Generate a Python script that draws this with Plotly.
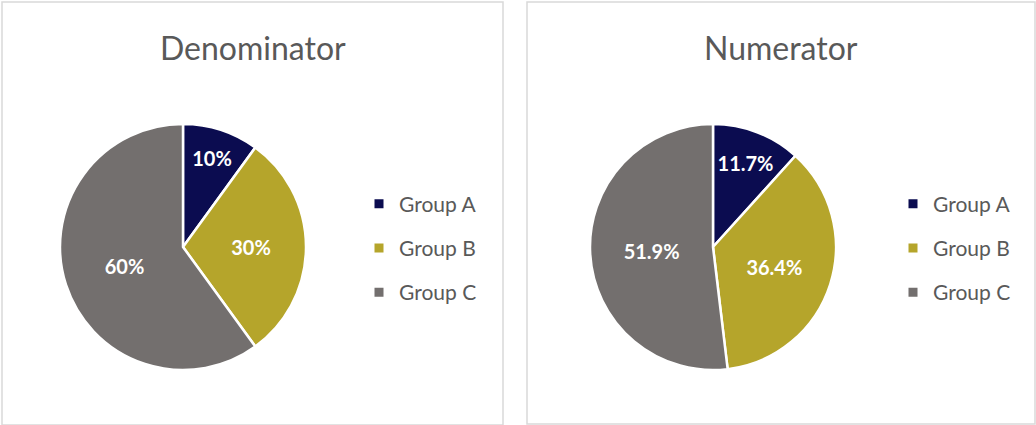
import plotly.graph_objects as go

categories = ["Group A", "Group B", "Group C"]
denominator_values = [10, 30, 60]
numerator_values = [11.7, 36.4, 51.9]
colors = ["#0B0C50", "#B5A52B", "#736F6E"]
titles = ["Denominator", "Numerator"]

W, H = 1036, 425
FONT = "Lato"

fig = go.Figure()

pie_domains = [
    dict(x=[60 / W, 306 / W], y=[(H - 370) / H, (H - 124) / H]),
    dict(x=[590 / W, 836 / W], y=[(H - 370) / H, (H - 124) / H]),
]
values_list = [denominator_values, numerator_values]
texts = [[f"{v:g}%" for v in denominator_values], [f"{v:g}%" for v in numerator_values]]
legends = ["legend", "legend2"]

for i in range(2):
    fig.add_trace(go.Pie(
        labels=categories,
        values=values_list[i],
        text=texts[i],
        textinfo="text",
        textposition="inside",
        insidetextorientation="horizontal",
        textfont=dict(family=FONT, size=20, color="white", weight="bold"),
        marker=dict(colors=colors, line=dict(color="white", width=2.5)),
        sort=False,
        direction="clockwise",
        rotation=0,
        domain=pie_domains[i],
        showlegend=False,
        hoverinfo="label+percent",
    ))
    for c, lab in zip(colors, categories):
        fig.add_trace(go.Scatter(
            x=[None], y=[None], mode="markers",
            marker=dict(symbol="square", size=9, color=c),
            name=lab, legendgroup=lab + str(i), legend=legends[i],
            showlegend=True,
        ))

legend_common = dict(
    font=dict(family=FONT, size=21, color="#595959"),
    bgcolor="rgba(0,0,0,0)",
    tracegroupgap=14,
    itemwidth=30,
    yanchor="middle",
    xanchor="left",
    y=(H - 248) / H,
)

fig.update_layout(
    width=W, height=H,
    margin=dict(l=0, r=0, t=0, b=0),
    paper_bgcolor="white",
    plot_bgcolor="white",
    xaxis=dict(visible=False),
    yaxis=dict(visible=False),
    legend=dict(x=359 / W, **legend_common),
    legend2=dict(x=893 / W, **legend_common),
    shapes=[
        dict(type="rect", xref="paper", yref="paper",
             x0=2 / W, x1=503 / W, y0=0 / H, y1=(H - 2) / H,
             line=dict(color="#D9D9D9", width=1.5), fillcolor="rgba(0,0,0,0)"),
        dict(type="rect", xref="paper", yref="paper",
             x0=527 / W, x1=1035 / W, y0=1 / H, y1=(H - 2) / H,
             line=dict(color="#D9D9D9", width=1.5), fillcolor="rgba(0,0,0,0)"),
    ],
    annotations=[
        dict(text=titles[0], x=253 / W, y=(H - 47) / H, xref="paper", yref="paper",
             showarrow=False, xanchor="center", yanchor="middle",
             font=dict(family=FONT, size=32, color="#595959", weight=400)),
        dict(text=titles[1], x=781 / W, y=(H - 47) / H, xref="paper", yref="paper",
             showarrow=False, xanchor="center", yanchor="middle",
             font=dict(family=FONT, size=32, color="#595959", weight=400)),
    ],
)

fig.write_html("out.html", config={"displayModeBar": False},
               post_script="document.body.style.margin='0';document.body.style.overflow='hidden';")
